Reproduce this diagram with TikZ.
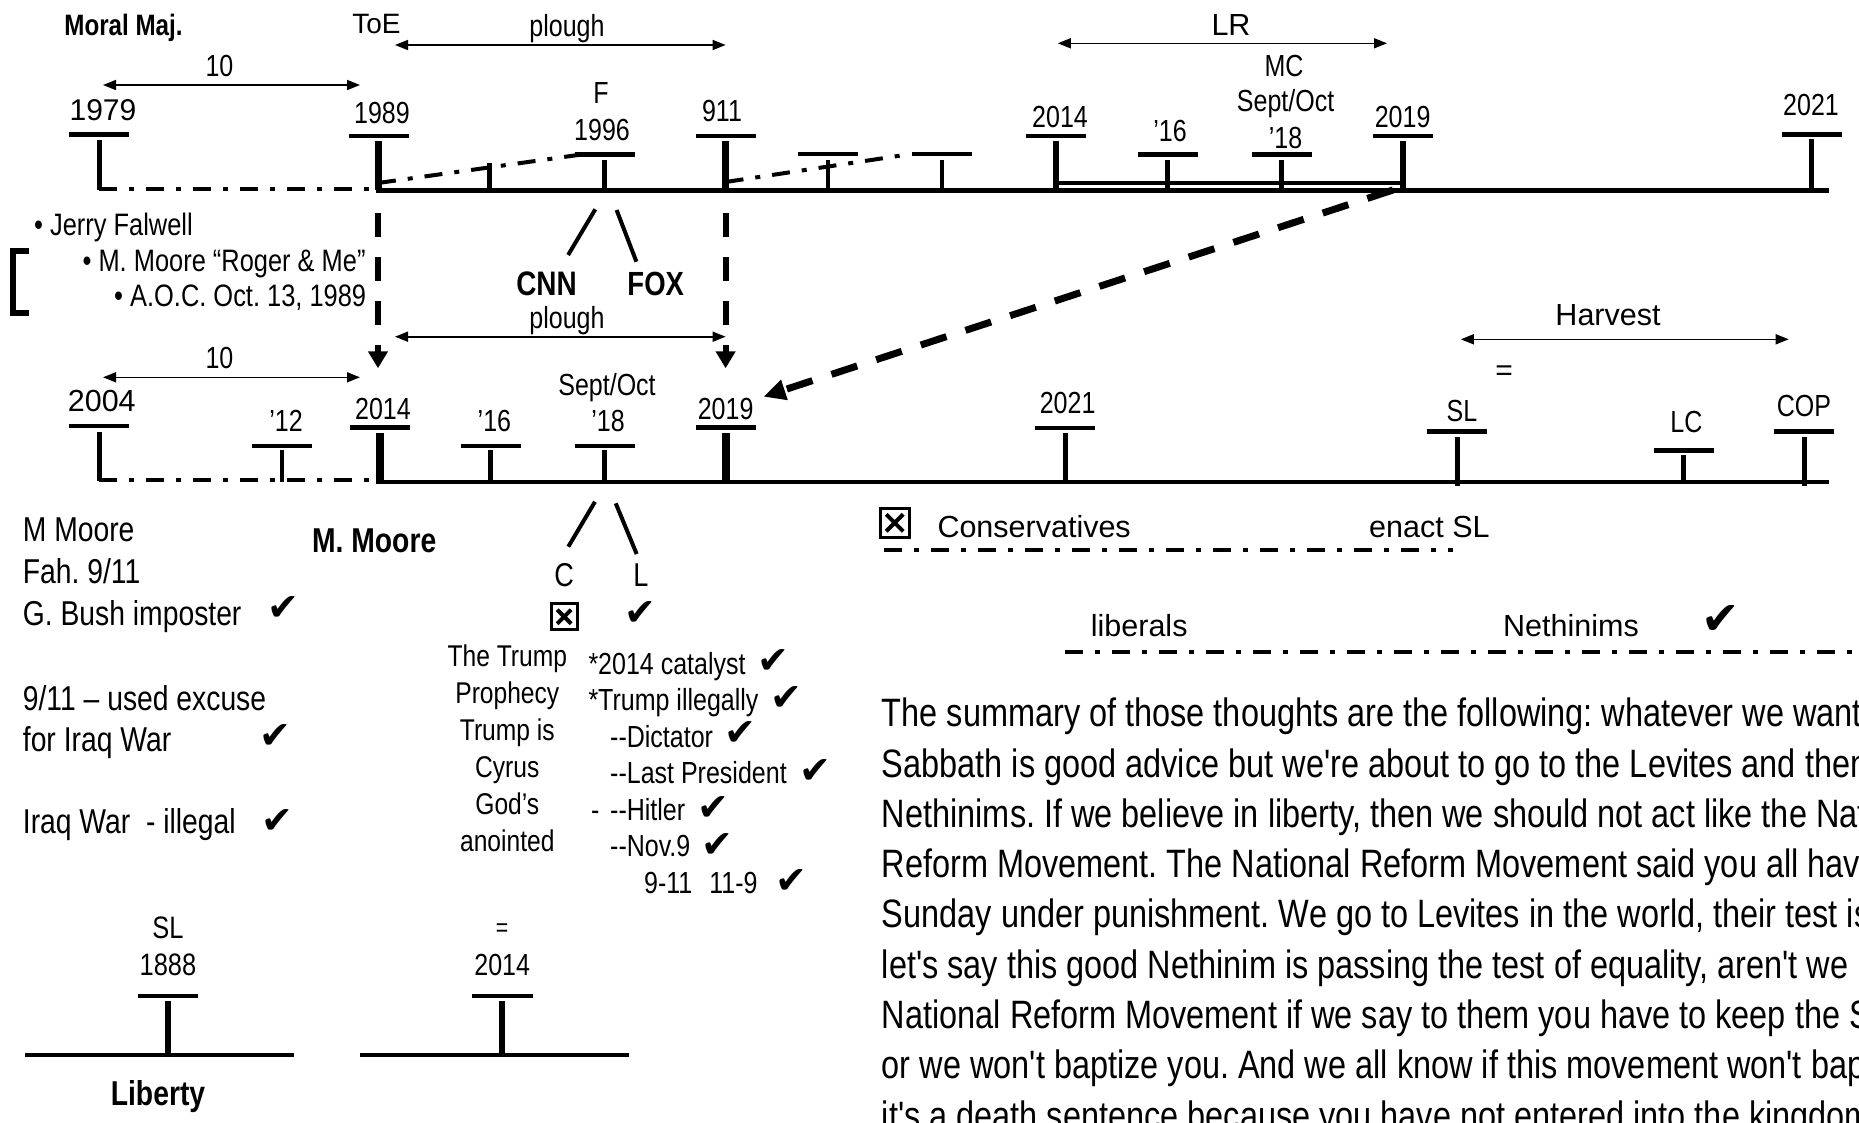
\documentclass[tikz,border=0pt]{standalone}
\usepackage{fontspec}
\usepackage{tikz}
\usetikzlibrary{calc,arrows.meta}
\newfontfamily\narrowfont{Liberation Sans}[FakeStretch=0.82]
\newfontfamily\widefont{Liberation Sans}
\newfontfamily\symbolfont{DejaVu Sans}
\newcommand{\chkmark}{✔}
\frenchspacing
\tikzset{mainline/.style={line width=#1},mainline/.default=4.5pt}
\tikzset{capbar/.style={line width=4.5pt}}
\tikzset{dashdotline/.style={line width=4pt,dash pattern=on 18pt off 12pt on 5pt off 12pt}}
\tikzset{spanarrow/.style={line width=1.6pt,arrows={Triangle[length=13pt,width=10pt]-Triangle[length=13pt,width=10pt]}}}
\tikzset{drop/.style={line width=#1,dash pattern=on 24pt off 20pt,arrows={-Triangle[length=17pt,width=19pt]}},drop/.default=6pt}
\tikzset{lbl/.style={inner sep=0pt,anchor=base,font=\narrowfont\fontsize{#1}{#1}\selectfont},lbl/.default=30.5}
\tikzset{widelbl/.style={inner sep=0pt,anchor=base,font=\widefont\fontsize{#1}{#1}\selectfont},widelbl/.default=30.5}
\tikzset{boldlbl/.style={inner sep=0pt,anchor=base,font=\narrowfont\bfseries\fontsize{#1}{#1}\selectfont},boldlbl/.default=34}
\tikzset{remark/.style={inner sep=0pt,anchor=base west,font=\narrowfont\fontsize{#1}{#1}\selectfont},remark/.default=34.5}
\tikzset{chk/.style={inner sep=0pt,font=\symbolfont\fontsize{#1}{#1}\selectfont},chk/.default=38}
\tikzset{xbox/.style={draw,line width=3pt,minimum size=#1,inner sep=0pt,
    path picture={\draw[line width=4pt]
      ([shift={(6pt,-6pt)}]path picture bounding box.north west) --
      ([shift={(-6pt,6pt)}]path picture bounding box.south east)
      ([shift={(-6pt,-6pt)}]path picture bounding box.north east) --
      ([shift={(6pt,6pt)}]path picture bounding box.south west);}},
  xbox/.default=26pt}

\begin{document}
\begin{tikzpicture}[x=1pt,y=-1pt,font=\narrowfont]

	\useasboundingbox (0,0) rectangle (1859,1122);
	\fill[white] (0,0) rectangle (1859,1122);
	\clip (0,0) rectangle (1859,1122);

	% Upper time line
	\draw[mainline=5pt] (376,190) -- (1829,190);
	\draw[dashdotline] (99,188.7) -- (378,188.7);
	\draw[mainline=4pt] (1056,183) -- (1402,183);
	\foreach \x/\b/\s/\w in {99/134.5/140/5, 378.5/136/141/7, 604.5/154.7/160/4.5,
	    725.6/136/141/7, 828/154/160/4.5, 942/154/160/4.5, 1056/136/141/6,
	    1167.5/154.7/160/4.5, 1281.5/154.7/160/4.5, 1402.5/136/141/6, 1811.5/134.5/139/5}
	{
		\draw[capbar] (\x-30,\b) -- (\x+30,\b);
		\draw[line width=\w pt] (\x,\s) -- (\x,190);
	}
	\draw[line width=4.5pt] (489.5,163) -- (489.5,190);
	\draw[dashdotline] (378,183) -- (578,155);
	\draw[dashdotline] (725.6,182) -- (911,154);

	% Labels of the upper line
	\node[boldlbl=29.5] (moral) at (123.5,35) {Moral Maj.};
	\node[widelbl=28] (toe) at (376.5,33.3) {ToE};
	\node[lbl] (plough top) at (567,36) {plough};
	\node[lbl] (ten top) at (219.5,76.7) {10};
	\node[widelbl=30] (y1979) at (103,120) {1979};
	\node[lbl] (y1989) at (382,123.3) {1989};
	\node[lbl] (f) at (601,103.3) {F};
	\node[lbl] (y1996) at (602,140) {1996};
	\node[lbl] (y911) at (722,121.7) {911};
	\node[widelbl] (lr) at (1231,35) {LR};
	\node[lbl] (mc) at (1284,76.7) {MC};
	\node[lbl] (septoct top) at (1285.6,111.7) {Sept/Oct};
	\node[lbl] (y18 top) at (1285.6,148.3) {’18};
	\node[lbl] (y16 top) at (1170,141.7) {’16};
	\node[lbl] (y2014 top) at (1060,127.7) {2014};
	\node[lbl] (y2019 top) at (1402.6,127.7) {2019};
	\node[lbl] (y2021 top) at (1811,115.7) {2021};

	% Span arrows
	\draw[spanarrow] (103,85) -- (360,85);
	\draw[spanarrow] (395,45) -- (725.6,45);
	\draw[spanarrow] (1057.8,43.3) -- (1387,43.3);
	\draw[spanarrow] (103,377.3) -- (360,377.3);
	\draw[spanarrow] (395,336.7) -- (725.6,336.7);
	\draw[spanarrow] (1460.8,339.3) -- (1788.7,339.3);

	% Bracket and list
	\draw[line width=6pt] (29,250.5) -- (13,250.5) -- (13,312.5) -- (29,312.5);
	\node[remark=31] (falwell) at (34,235) {• Jerry Falwell};
	\node[remark=31] (roger) at (82.4,271.7) {• M. Moore “Roger \& Me”};
	\node[remark=31] (aoc) at (114,306.7) {• A.O.C. Oct. 13, 1989};

	% CNN and FOX
	\node[boldlbl] (cnn) at (546.5,295) {CNN};
	\node[boldlbl=33.5] (fox) at (655.7,295) {FOX};
	\draw[line width=4pt] (595.3,209.3) -- (568.1,255);
	\draw[line width=4pt] (616.6,210) -- (636.4,261.7);
	\node[lbl] (plough low) at (567,328.3) {plough};
	\node[lbl] (ten low) at (219.5,368.3) {10};

	% Drops to the lower line
	\draw[drop] (378,213) -- (378,368.3);
	\draw[drop] (725.6,213) -- (725.6,368.3);
	\draw[drop=7pt,dash pattern=on 27pt off 20pt,arrows={-Triangle[length=22pt,width=20pt]}]
		(1393,190) -- (763.5,396.7);

	% Lower time line
	\draw[mainline] (377,482) -- (1829,482);
	\draw[dashdotline] (99,480) -- (379.5,480);
	\foreach \x/\b/\s/\e/\w in {99/426/432/481/5, 282/446/450/482/4.5, 379.5/427.5/433/484/8,
	    490.5/446/450/482/4.5, 604.5/446/450/482/4.5, 725.6/427.5/433/484/8,
	    1065/428/433/482/5, 1457.3/431.3/437/486/5, 1683.6/450.7/455/484/4.5, 1804/431.3/437/486/5}
	{
		\draw[capbar] (\x-30,\b) -- (\x+30,\b);
		\draw[line width=\w pt] (\x,\s) -- (\x,\e);
	}

	% Labels of the lower line
	\node[widelbl=30.5] (y2004) at (101.8,411.7) {2004};
	\node[lbl] (y12) at (286,431.7) {’12};
	\node[lbl] (y2014 low) at (383,419) {2014};
	\node[lbl] (y16 low) at (494.4,431.7) {’16};
	\node[lbl] (septoct low) at (607,395) {Sept/Oct};
	\node[lbl] (y18 low) at (608,431.7) {’18};
	\node[lbl] (y2019 low) at (725.6,419) {2019};
	\node[lbl] (y2021 low) at (1067.6,413.3) {2021};
	\node[widelbl] (harvest) at (1608,325) {Harvest};
	\node[inner sep=0pt,font=\widefont\fontsize{30}{30}\selectfont] (eq top) at (1504,373) {=};
	\node[lbl] (sl) at (1462,421.7) {SL};
	\node[lbl] (lc) at (1686.4,432.7) {LC};
	\node[lbl] (cop) at (1804,416) {COP};

	% Left notes
	\node[remark] (mmoore) at (22.7,541) {M Moore};
	\node[remark] (fah) at (22.7,583.3) {Fah. 9/11};
	\node[remark] (bush) at (22.7,625) {G. Bush imposter};
	\node[remark] (excuse) at (22.7,710) {9/11 – used excuse};
	\node[remark] (iraq) at (22.7,751.7) {for Iraq War};
	\node[remark] (illegal) at (22.7,833) {Iraq War\ \ - illegal};
	\node[chk] (chk bush) at (283.5,609) {\chkmark};
	\node[chk] (chk iraq) at (275,736.5) {\chkmark};
	\node[chk] (chk illegal) at (277,821) {\chkmark};
	\node[boldlbl=34.5] (moore bold) at (374.2,552.7) {M. Moore};

	% C and L
	\draw[line width=4pt] (595,501.7) -- (568.3,546.7);
	\draw[line width=4pt] (615.7,503.3) -- (636.7,554);
	\node[lbl=33] (c) at (564.2,586) {C};
	\node[lbl=33] (l) at (641,586) {L};
	\node[xbox] (c box) at (564.2,616.7) {};
	\node[chk] (chk l) at (640.5,613.5) {\chkmark};

	% Trump column
	\foreach \t [count=\k] in {The Trump, Prophecy, Trump is, Cyrus, God’s, anointed}
		\node[lbl=30] (trump\k) at (507.3,629.7+37*\k) {\t};
	\node[remark=30.5] (catalyst) at (588.3,674) {*2014 catalyst};
	\node[remark=30.5] (illegally) at (588.3,710.5) {*Trump illegally};
	\node[remark=30.5] (dictator) at (610,747) {--Dictator};
	\node[remark=30.5] (president) at (610,783.5) {--Last President};
	\node[remark=30.5] (dash) at (591,820) {-};
	\node[remark=30.5] (hitler) at (610,820) {--Hitler};
	\node[remark=30.5] (nov) at (610,856.5) {--Nov.9};
	\node[remark=30.5] (nineeleven) at (644,893) {9-11\hspace{17pt}11-9};
	\node[chk] (chk catalyst) at (773.5,661.7) {\chkmark};
	\node[chk] (chk illegally) at (786,698.3) {\chkmark};
	\node[chk] (chk dictator) at (740,734) {\chkmark};
	\node[chk] (chk president) at (815.8,771.7) {\chkmark};
	\node[chk] (chk hitler) at (713,808) {\chkmark};
	\node[chk] (chk nov) at (717,845) {\chkmark};
	\node[chk] (chk nine) at (791,881.7) {\chkmark};

	% Conservatives and liberals
	\node[xbox=29pt] (cons box) at (894.7,522.8) {};
	\node[widelbl,anchor=base west] (cons) at (937.3,537.3) {Conservatives};
	\node[widelbl,anchor=base west] (enact) at (1369,537.3) {enact SL};
	\draw[dashdotline] (884.3,549.5) -- (1453,549.5);
	\node[widelbl,anchor=base west] (liberals) at (1090.7,636) {liberals};
	\node[widelbl,anchor=base west] (nethinims) at (1503,636.7) {Nethinims};
	\node[chk=46] (chk nethinims) at (1720.5,619.7) {\chkmark};
	\draw[dashdotline] (1065,651.7) -- (1859,651.7);

	% Small time lines
	\draw[capbar] (137.6,995.8) -- (198,995.8);
	\draw[line width=6pt] (167.6,1001) -- (167.6,1053);
	\draw[mainline] (25,1055) -- (294,1055);
	\node[lbl=31] (sl small) at (167.9,938.3) {SL};
	\node[lbl=31] (y1888) at (167.9,975) {1888};
	\node[boldlbl=34.5] (liberty) at (158,1105) {Liberty};
	\draw[capbar] (471.7,995.8) -- (532.8,995.8);
	\draw[line width=6pt] (502.2,1001) -- (502.2,1053);
	\draw[mainline] (359.6,1055) -- (628.7,1055);
	\node[inner sep=0pt,font=\narrowfont\fontsize{26}{26}\selectfont] (eq small) at (502,930.5) {=};
	\node[lbl=30.5] (y2014 small) at (502.2,975) {2014};

	% Summary text
	\foreach \ptext [count=\k] in {
		{The summary of those thoughts are the following: whatever we want},
		{Sabbath is good advice but we're about to go to the Levites and then},
		{Nethinims. If we believe in liberty, then we should not act like the National},
		{Reform Movement. The National Reform Movement said you all have},
		{Sunday under punishment. We go to Levites in the world, their test is},
		{let's say this good Nethinim is passing the test of equality, aren't we},
		{National Reform Movement if we say to them you have to keep the Sabbath},
		{or we won't baptize you. And we all know if this movement won't baptize},
		{it's a death sentence because you have not entered into the kingdom}}
		\node[remark=39.6] (para\k) at (881.7,676.4+50.3*\k) {\ptext};

\end{tikzpicture}
\end{document}
